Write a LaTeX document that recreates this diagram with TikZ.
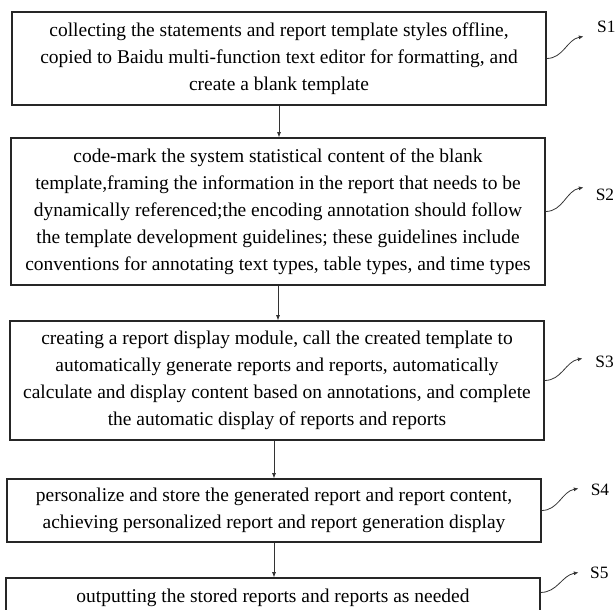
\documentclass[tikz,border=0pt]{standalone}
\usepackage{fontspec}
\setmainfont{Liberation Serif}
\usetikzlibrary{arrows.meta}

\tikzset{
  stepbox/.style={draw=black!85, line width=0.8pt, align=center, inner sep=0pt,
    minimum width=400.5pt, font=\fontsize{14.6pt}{20.25pt}\selectfont},
  flow/.style={draw=black!80, line width=0.6pt, -{Latex[length=4pt,width=3pt]}},
  lead/.style={draw=black!80, line width=0.6pt, -{Latex[length=3.5pt,width=3pt]}},
  steplabel/.style={anchor=west, inner sep=0pt, font=\fontsize{13pt}{15pt}\selectfont}
}

\begin{document}
\begin{tikzpicture}[x=0.75pt,y=-0.75pt]
\useasboundingbox (0,0) rectangle (616,609);

% Define nodes
\path (279,58.5)
node[stepbox, minimum height=69.75pt] (collect) {collecting the statements and report template styles offline,\\
copied to Baidu multi-function text editor for formatting, and\\
create a blank template}
(278,211.5)
node[stepbox, minimum height=110.25pt] (codemark) {code-mark the system statistical content of the blank\\
template,framing the information in the report that needs to be\\
dynamically referenced;the encoding annotation should follow\\
the template development guidelines; these guidelines include\\
conventions for annotating text types, table types, and time types}
(277,380.5)
node[stepbox, minimum height=89.25pt] (display) {creating a report display module, call the created template to\\
automatically generate reports and reports, automatically\\
calculate and display content based on annotations, and complete\\
the automatic display of reports and reports}
(274,510.5)
node[stepbox, minimum height=47.25pt] (store) {personalize and store the generated report and report content,\\
achieving personalized report and report generation display}
(273,598)
node[stepbox, minimum height=30pt] (output) {outputting the stored reports and reports as needed}
;

% Leader ends and step labels
\path (collect.east) +(37,-22) coordinate (tipA)
(codemark.east) +(38,-24) coordinate (tipB)
(display.east) +(38,-22) coordinate (tipC)
(store.east) +(37,-22) coordinate (tipD)
(output.north east) +(0,15) coordinate (outE)
(outE) +(38,-20) coordinate (tipE)
;
\node[steplabel] (sA) at ([xshift=10pt]tipA |- 0,27) {S1};
\node[steplabel] (sB) at ([xshift=9pt]tipB |- 0,195) {S2};
\node[steplabel] (sC) at ([xshift=9.5pt]tipC |- 0,362) {S3};
\node[steplabel] (sD) at ([xshift=9pt]tipD |- 0,490) {S4};
\node[steplabel] (sE) at ([xshift=8.5pt]tipE |- 0,573) {S5};

% Flow
\draw[flow] (collect.south) -- (collect.south |- codemark.north);
\draw[flow] (codemark.south) -- (codemark.south |- display.north);
\draw[flow] (display.south -| store.north) -- (store.north);
\draw[flow] (store.south) -- (store.south |- output.north);

% Leaders
\draw[lead] (collect.east) to[out=0,in=190] (tipA);
\draw[lead] (codemark.east) to[out=0,in=190] (tipB);
\draw[lead] (display.east) to[out=0,in=190] (tipC);
\draw[lead] (store.east) to[out=0,in=190] (tipD);
\draw[lead] (outE) to[out=0,in=190] (tipE);

\end{tikzpicture}
\end{document}
